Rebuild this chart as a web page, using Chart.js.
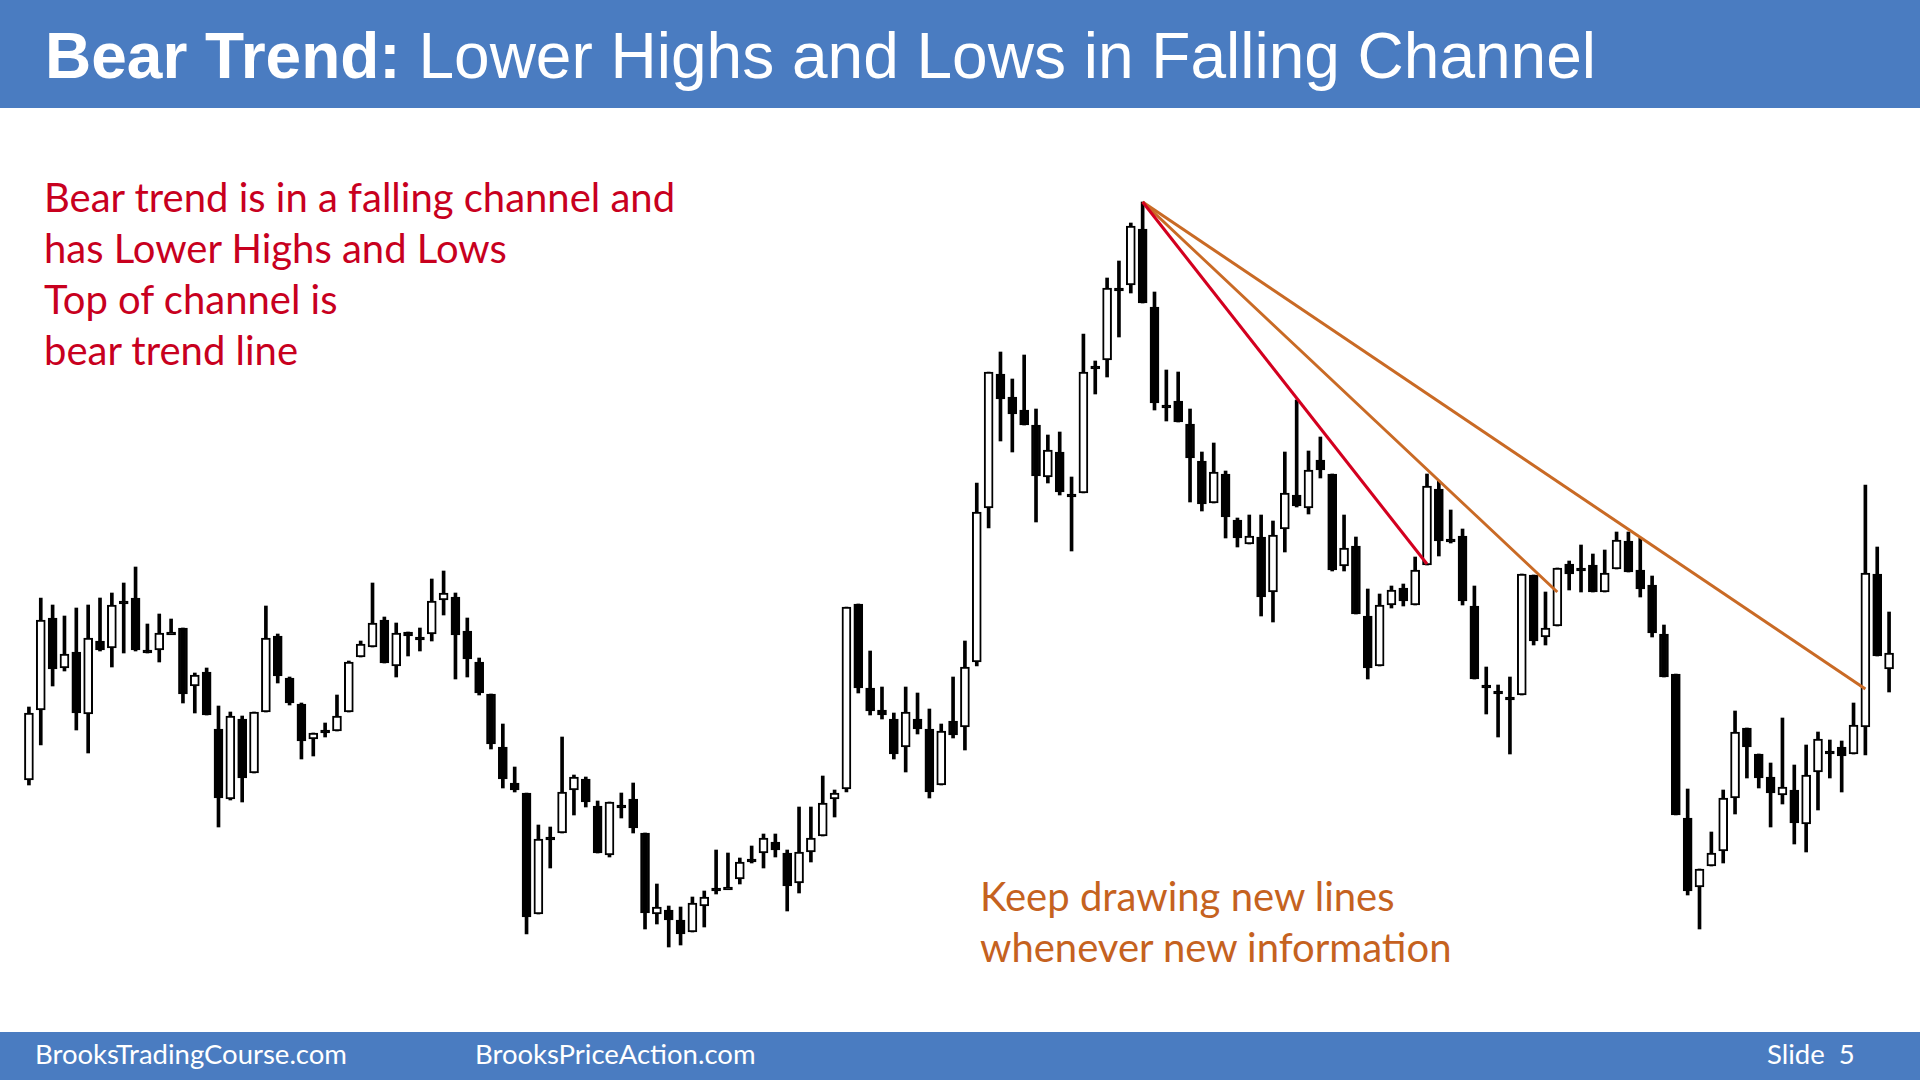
<!DOCTYPE html>
<html lang="en">
<head>
<meta charset="UTF-8">
<title>Bear Trend: Lower Highs and Lows in Falling Channel</title>
<style>
    * { box-sizing: border-box; margin: 0; padding: 0; }
    body {
        width: 1920px;
        height: 1080px;
        background: #ffffff;
        position: relative;
        overflow: hidden;
        font-family: Lato, "Open Sans", sans-serif;
    }
    .header {
        position: absolute;
        left: 0; top: 0;
        width: 1920px; height: 108px;
        background: #4a7cc1;
    }
    .header h1 {
        position: absolute;
        left: 45px; top: 24px;
        font-family: "Liberation Sans", Arial, sans-serif;
        font-size: 64px;
        line-height: 64px;
        font-weight: normal;
        color: #ffffff;
        white-space: nowrap;
    }
    .header b { font-weight: bold; }
    .note {
        position: absolute;
        font-size: 40px;
        line-height: 51px;
        white-space: nowrap;
    }
    .note.red { left: 44px; top: 172px; color: #c8001e; }
    .note.orange { left: 980px; top: 871px; color: #c5621f; }
    .footer {
        position: absolute;
        left: 0; top: 1032px;
        width: 1920px; height: 48px;
        background: #4a7cc1;
        color: #ffffff;
        font-size: 27.5px;
    }
    .footer span { position: absolute; top: 6px; line-height: 32px; white-space: nowrap; }
    .chart-box {
        position: absolute;
        left: 23px; top: 110px;
        width: 1872px; height: 920px;
    }
</style>
</head>
<body>
<div class="header">
    <h1><b>Bear Trend:</b> Lower Highs and Lows in Falling Channel</h1>
</div>

<div class="note red">Bear trend is in a falling channel and<br>has Lower Highs and Lows<br>Top of channel is<br>bear trend line</div>
<div class="note orange">Keep drawing new lines<br>whenever new information</div>

<div class="chart-box"><canvas id="priceChart"></canvas></div>

<div class="footer">
    <span style="left:35px">BrooksTradingCourse.com</span>
    <span style="left:475px">BrooksPriceAction.com</span>
    <span style="left:1767px">Slide&nbsp; 5</span>
</div>

<script src="https://cdn.jsdelivr.net/npm/chart.js"></script>
<script>
    // OHLC (arbitrary price units)
    const opens = [
        220, 290, 382, 332, 348, 286, 359, 352, 399, 402,
        350, 350, 368, 372, 314, 328, 271, 201, 281, 227,
        288, 364, 322, 296, 261, 270, 269, 288, 343, 353,
        380, 334, 368, 363, 366, 400, 403, 369, 338, 306,
        253, 217, 207, 86, 163, 167, 210, 221, 194, 145,
        195, 201, 167, 86, 90, 80, 68, 94, 112, 113,
        121, 141, 147, 158, 147, 117, 148, 164, 201, 211,
        396, 312, 290, 281, 253, 281, 271, 215, 279, 273,
        338, 492, 626, 603, 590, 575, 523, 548, 506, 507,
        634, 640, 712, 715, 771, 693, 595, 599, 576, 539,
        497, 526, 480, 456, 463, 408, 471, 505, 492, 540,
        526, 434, 454, 384, 334, 395, 412, 395, 435, 511,
        461, 464, 394, 315, 309, 303, 305, 425, 363, 374,
        436, 432, 435, 408, 431, 459, 430, 415, 366, 326,
        182, 113, 134, 149, 202, 272, 246, 223, 205, 210,
        176, 228, 249, 253, 246, 273, 426, 331
    ];
    const highs = [
        293, 402, 395, 384, 392, 395, 402, 407, 417, 433,
        376, 386, 381, 372, 327, 332, 294, 288, 284, 288,
        394, 366, 323, 297, 267, 277, 305, 339, 359, 417,
        383, 377, 368, 372, 421, 429, 407, 382, 342, 306,
        276, 233, 207, 175, 173, 263, 225, 223, 199, 198,
        207, 217, 167, 116, 94, 93, 103, 109, 150, 147,
        142, 154, 166, 166, 150, 193, 193, 224, 210, 393,
        396, 349, 313, 287, 313, 307, 291, 276, 323, 359,
        517, 628, 648, 621, 645, 591, 565, 568, 523, 666,
        639, 722, 739, 777, 798, 708, 630, 628, 591, 548,
        557, 529, 482, 485, 485, 479, 548, 600, 549, 563,
        526, 485, 463, 411, 406, 414, 416, 443, 526, 519,
        490, 471, 414, 333, 315, 323, 426, 425, 408, 432,
        439, 455, 446, 450, 468, 468, 462, 424, 375, 326,
        211, 131, 168, 210, 289, 272, 246, 237, 282, 235,
        255, 268, 260, 259, 297, 515, 453, 388
    ];
    const lows = [
        215, 255, 314, 329, 270, 247, 349, 333, 347, 349,
        347, 338, 367, 297, 287, 285, 173, 200, 198, 227,
        288, 317, 295, 241, 244, 263, 269, 288, 343, 353,
        337, 323, 344, 349, 359, 385, 321, 323, 305, 251,
        212, 208, 66, 86, 132, 167, 185, 193, 147, 143,
        182, 167, 71, 76, 53, 55, 68, 73, 106, 112,
        116, 137, 132, 143, 89, 107, 138, 164, 183, 208,
        307, 285, 281, 241, 228, 266, 202, 215, 262, 250,
        334, 472, 559, 548, 575, 478, 517, 505, 449, 507,
        606, 623, 663, 707, 697, 590, 579, 578, 498, 489,
        497, 462, 453, 456, 384, 378, 448, 493, 486, 522,
        429, 429, 386, 321, 334, 392, 394, 395, 435, 444,
        457, 395, 321, 286, 263, 246, 305, 355, 355, 374,
        410, 408, 408, 408, 431, 428, 403, 363, 323, 185,
        105, 71, 134, 137, 186, 222, 212, 173, 196, 156,
        148, 190, 222, 208, 246, 245, 344, 308
    ];
    const closes = [
        287, 380, 331, 346, 287, 362, 350, 395, 399, 350,
        350, 367, 368, 306, 325, 285, 202, 284, 222, 288,
        362, 324, 297, 259, 267, 270, 284, 338, 356, 377,
        337, 367, 364, 363, 399, 407, 365, 341, 307, 256,
        221, 210, 83, 161, 163, 208, 223, 198, 147, 198,
        195, 172, 87, 93, 80, 66, 97, 103, 112, 113,
        138, 141, 162, 150, 114, 148, 162, 197, 207, 393,
        312, 289, 285, 246, 288, 271, 208, 269, 265, 333,
        488, 628, 601, 586, 575, 524, 550, 508, 506, 628,
        634, 712, 712, 774, 697, 597, 595, 578, 542, 496,
        528, 483, 462, 464, 403, 465, 507, 494, 530, 530,
        430, 452, 386, 332, 395, 410, 399, 430, 514, 459,
        461, 399, 321, 315, 309, 303, 426, 359, 372, 432,
        426, 432, 408, 427, 460, 428, 411, 367, 323, 185,
        109, 131, 147, 202, 268, 253, 222, 207, 213, 177,
        225, 261, 249, 244, 275, 427, 344, 347
    ];

    // trend lines: [bar number, price]
    const redTrendLine = [[95, 798], [119, 436]];
    const midTrendLine = [[95, 798], [130, 408]];
    const topTrendLine = [[95, 798], [156, 311]];

    const labels = opens.map((_, i) => String(i + 1));

    function lineData(points) {
        const arr = labels.map(() => null);
        points.forEach(([bar, price]) => { arr[bar - 1] = price; });
        return arr;
    }

    const bodyColors = opens.map((o, i) => closes[i] > o ? '#ffffff' : '#000000');

    function trendDataset(points, color) {
        return {
            type: 'line',
            data: lineData(points),
            borderColor: color,
            borderWidth: 3,
            pointRadius: 0,
            spanGaps: true,
            fill: false,
            order: 0
        };
    }

    const ctx = document.getElementById('priceChart').getContext('2d');
    new Chart(ctx, {
        type: 'bar',
        data: {
            labels: labels,
            datasets: [
                {
                    label: 'wick',
                    data: lows.map((l, i) => [l, highs[i]]),
                    backgroundColor: '#000000',
                    barThickness: 3,
                    grouped: false,
                    order: 2
                },
                {
                    label: 'body',
                    data: opens.map((o, i) => [o, closes[i]]),
                    backgroundColor: bodyColors,
                    borderColor: '#000000',
                    borderWidth: 2,
                    borderSkipped: false,
                    barThickness: 9,
                    minBarLength: 3,
                    grouped: false,
                    order: 1
                },
                trendDataset(redTrendLine, '#d3001f'),
                trendDataset(midTrendLine, '#c96a25'),
                trendDataset(topTrendLine, '#c96a25')
            ]
        },
        options: {
            responsive: true,
            maintainAspectRatio: false,
            animation: false,
            layout: { padding: 0 },
            plugins: {
                legend: { display: false },
                tooltip: { enabled: false }
            },
            scales: {
                x: { display: false, grid: { display: false } },
                y: { display: false, min: -30, max: 890, grid: { display: false } }
            }
        }
    });
</script>
</body>
</html>
